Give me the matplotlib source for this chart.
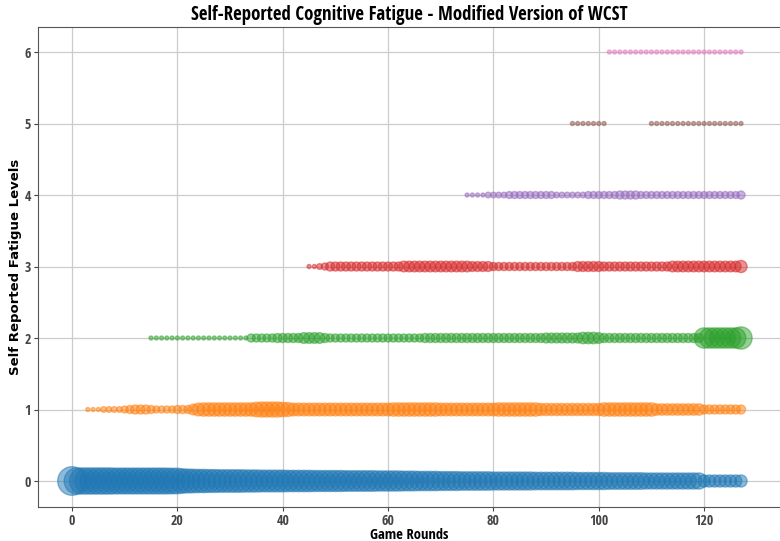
import matplotlib
matplotlib.use("Agg")
import matplotlib.pyplot as plt
import numpy as np

# fatigue levels reported per game round (number of participants)
rounds = list(range(128))
levels = [0, 1, 2, 3, 4, 5, 6]

level0 = ([50]
          + [42, 42, 42, 42, 42, 42, 42, 41, 41, 41, 41, 41, 41, 41, 41, 41, 41, 41, 40, 40]
          + [36, 35, 34, 33, 33, 32, 32, 31, 31, 31, 31, 31, 30, 30, 30, 29, 29, 29, 29, 29]
          + [28, 28, 28, 28, 28, 27, 27, 27, 27, 27, 27, 26, 26, 26, 26, 26, 26, 25, 25, 25]
          + [25, 25, 24, 24, 24, 23, 23, 23, 23, 22, 22, 22, 22, 21, 21, 21, 21, 21, 21, 20]
          + [20, 20, 20, 20, 20, 20, 20, 19, 19, 19, 19, 19, 19, 19, 19, 18, 18, 18, 18, 18]
          + [18, 17, 17, 17, 17, 17, 17, 17, 16, 16, 16, 16, 16, 16, 16, 16, 16, 16, 16]
          + [9, 9, 9, 9, 9, 9, 9, 9])
level1 = ([0, 0, 0, 1, 1, 1, 2, 2, 2, 2, 3, 4, 5, 5, 5, 4, 3, 3, 3, 3]
          + [4, 4, 4, 7, 10, 11, 11, 11, 11, 11, 11, 11, 11, 11, 11, 13, 14, 14, 14, 14]
          + [13, 12, 10, 10, 10, 10, 10, 10, 10, 10, 10, 10, 10, 10, 10, 10, 10, 10, 10, 10]
          + [10, 11, 11, 11, 11, 11, 11, 11, 11, 11, 10, 10, 10, 10, 10, 10, 10, 10, 10, 10]
          + [10, 11, 11, 11, 11, 11, 11, 11, 11, 9, 9, 9, 9, 9, 9, 9, 9, 9, 9, 9]
          + [9, 11, 11, 11, 11, 11, 11, 11, 11, 11, 11, 8, 8, 8, 8, 8, 8, 8, 8, 8]
          + [5, 5, 5, 5, 5, 5, 5, 5])
level2 = ([0] * 15
          + [1] * 19
          + [4, 4, 4, 4, 4, 5, 5, 5, 5, 5, 7, 7, 7, 7, 5, 4, 4, 4, 4, 4]
          + [4] * 13 + [5] * 7
          + [5] * 16 + [6] * 4
          + [6, 6, 6, 8, 8, 8, 7]
          + [5] * 19
          + [25, 25, 25, 25, 25, 25, 25, 30])
level3 = ([0] * 45
          + [1, 1, 2, 3] + [5] * 14 + [7, 7]
          + [7] * 11
          + [6] * 4
          + [4] * 16
          + [6] * 5
          + [5] * 13
          + [7] * 13
          + [9])
level4 = ([0] * 75
          + [1, 1, 1, 1, 2, 2, 2, 2, 3, 3, 3, 3, 3, 3, 3, 3, 3, 2, 2, 2]
          + [2, 2, 2, 3, 3, 3, 3, 3, 3, 4, 4, 4, 4, 3, 3, 3, 3, 3, 3, 3]
          + [3, 3, 3, 3, 3, 3, 3, 3, 3, 3, 3, 3, 4])
level5 = [0] * 95 + [1] * 7 + [0] * 8 + [1] * 18
level6 = [0] * 102 + [1] * 26

counts = [level0, level1, level2, level3, level4, level5, level6]
colors = ['tab:blue', 'tab:orange', 'tab:green', 'tab:red',
          'tab:purple', 'tab:brown', 'tab:pink']

plt.rcParams['font.family'] = ['Open Sans Condensed', 'Open Sans', 'DejaVu Sans']
plt.rcParams['font.stretch'] = 'condensed'

fig = plt.figure(figsize=(7.8, 5.41), dpi=100)
ax = fig.add_axes([0.0487, 0.0628, 0.9513, 0.8873])

for lvl, cnt, col in zip(levels, counts, colors):
    cnt = np.array(cnt)
    x = np.array(rounds)[cnt > 0]
    c = cnt[cnt > 0]
    ax.scatter(x, np.full(len(x), lvl), s=c * 8.5, color=col, alpha=0.5)

ax.set_xlim(-6.46, 134.4)
ax.set_ylim(-0.364, 6.35)
ax.set_xticks([0, 20, 40, 60, 80, 100, 120])
ax.set_yticks(levels)
ax.grid(True, color='#cccccc', linewidth=0.9)
ax.set_axisbelow(True)
ax.spines['right'].set_visible(False)
for sp in ['left', 'bottom', 'top']:
    ax.spines[sp].set_color('#555555')
ax.tick_params(labelsize=10, colors='#444444', length=3, pad=2)
for lab in ax.get_xticklabels() + ax.get_yticklabels():
    lab.set_fontweight('light')

ax.set_title('Self-Reported Cognitive Fatigue - Modified Version of WCST',
             fontsize=13.6, fontweight='bold', pad=5)
ax.set_xlabel('Game Rounds', fontsize=10.5, fontweight='bold', labelpad=0)
ax.set_ylabel('Self Reported Fatigue Levels', fontsize=9.5, fontweight='bold',
              family='DejaVu Sans', fontstretch='normal', labelpad=2)

fig.savefig('out.png', dpi=100)
